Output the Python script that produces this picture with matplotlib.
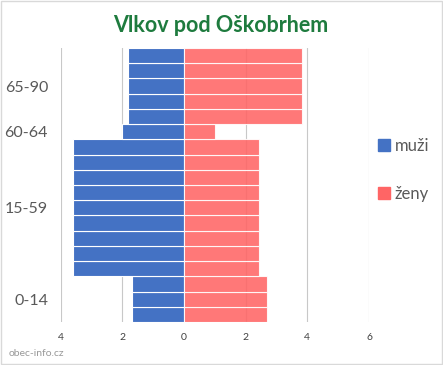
import matplotlib.pyplot as plt
from matplotlib.patches import Patch, Rectangle

plt.rcParams['font.family'] = ['Lato', 'DejaVu Sans']

# one row per bar, bottom to top
muzi = [1.69] * 3 + [3.58] * 9 + [2.0] + [1.82] * 5
zeny = [2.68] * 3 + [2.44] * 9 + [1.0] + [3.82] * 5
groups = ['0-14', '15-59', '60-64', '65-90']
group_rows = [3, 9, 1, 5]
xticks = [-4, -2, 0, 2, 4, 6]
xticklabels = ['4', '2', '0', '2', '4', '6']

fig = plt.figure(figsize=(4.43, 3.65), dpi=100)
ax = fig.add_axes([0.1366, 0.1178, 0.833 - 0.1366, 0.8685 - 0.1178])

rows = range(len(muzi))
ax.barh(rows, [-v for v in muzi], height=1.0, color='#4472C4',
        edgecolor='white', linewidth=0.8, zorder=2)
ax.barh(rows, zeny, height=1.0, color='#FF6565', alpha=0.88,
        edgecolor='white', linewidth=0.8, zorder=2)

ax.set_xlim(-4, 6)
ax.set_ylim(-0.5, len(muzi) - 0.5)
ax.set_xticks(xticks)
ax.set_xticklabels(xticklabels, fontsize=7.5, color='#404040')
ax.grid(axis='x', color='#C8C8C8', linewidth=0.8, zorder=0)
ax.set_axisbelow(True)

# group labels centred on their rows
centers = []
start = 0
for n in group_rows:
    centers.append(start + (n - 1) / 2)
    start += n
ax.set_yticks(centers)
ax.set_yticklabels(groups, fontsize=11.5, color='#595959')
ax.tick_params(length=0, pad=9)
ax.tick_params(axis='x', pad=8)
for s in ax.spines.values():
    s.set_visible(False)

fig.text(0.498, 0.93, 'Vlkov pod Oškobrhem', ha='center', va='center',
         fontsize=15.5, fontweight='bold', color='#1E7B3E')

handles = [Patch(color='#4472C4'), Patch(color='#FF6565')]
fig.legend(handles, ['muži', 'ženy'], loc='center left',
           bbox_to_anchor=(0.82, 0.535), frameon=False, fontsize=12,
           labelcolor='#595959', handlelength=0.7, handleheight=0.7,
           handletextpad=0.3, labelspacing=1.9)

fig.text(0.02, 0.025, 'obec-info.cz', fontsize=7.5, color='#999999')
fig.patches.append(Rectangle((0.002, 0.003), 0.995, 0.994, transform=fig.transFigure,
                             fill=False, edgecolor='#D9D9D9', linewidth=1))

fig.savefig('out.png', dpi=100)
